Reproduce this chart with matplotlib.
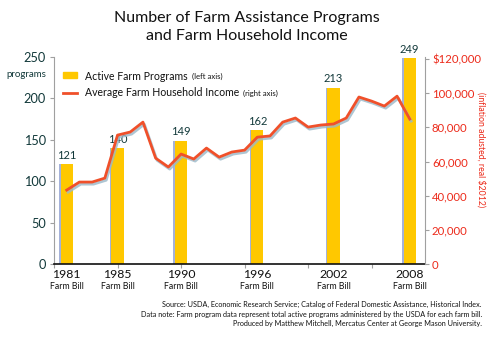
import matplotlib
matplotlib.use("Agg")
import matplotlib.pyplot as plt
import matplotlib.patheffects as pe
from matplotlib.patches import Rectangle
from matplotlib.lines import Line2D

bill_years = [1981, 1985, 1990, 1996, 2002, 2008]
programs = [121, 140, 149, 162, 213, 249]

income_years = list(range(1981, 2009))
income = [43300, 48000, 48000, 50300, 75500, 77300, 83100, 62000, 56800, 64400,
          61500, 67900, 62600, 65600, 66700, 74300, 75000, 83100, 85500, 80200,
          81400, 82000, 85500, 97800, 95400, 92500, 98300, 84900]

left_ticks = [0, 50, 100, 150, 200, 250]
right_ticks = [0, 20000, 40000, 60000, 80000, 100000, 120000]
right_labels = ["0", "20,000", "40,000", "60,000", "80,000", "100,000", "$120,000"]

TEAL = "#12393a"
RED = "#ec2a1a"
LINE = "#f0502a"
YELLOW = "#ffc800"
GRAY = "#a0a0a0"
plt.rcParams["font.family"] = ["Lato", "DejaVu Sans"]

fig = plt.figure(figsize=(5, 3.4), dpi=100)
ax = fig.add_axes([0.108, 0.2235, 0.742, 0.6085])
ax.set_xlim(1980.1, 2009.2)
ax.set_ylim(0, 250)

bars = ax.bar(bill_years, programs, width=0.95, color=YELLOW, zorder=2)
for b in bars:
    b.set_path_effects([pe.SimplePatchShadow(offset=(-1.2, 0), shadow_rgbFace="#8f9fd0", alpha=0.8), pe.Normal()])
for x, v in zip(bill_years, programs):
    ax.text(x, v + 4, str(v), ha="center", va="bottom", color=TEAL, fontsize=8)

ax2 = ax.twinx()
ax2.set_ylim(0, 121170)
ax2.plot(income_years, income, color=LINE, lw=2, zorder=3,
         path_effects=[pe.SimpleLineShadow(offset=(1, -1.5), shadow_color="#9ab8c8", alpha=0.8), pe.Normal()])

for a in (ax, ax2):
    a.spines["top"].set_visible(False)
ax.spines["left"].set_color(GRAY)
ax.spines["right"].set_visible(False)
ax2.spines["left"].set_visible(False)
ax2.spines["bottom"].set_visible(False)
ax2.spines["right"].set_color(GRAY)
ax.spines["bottom"].set_color("#111111")
ax.spines["bottom"].set_linewidth(1.2)

ax.set_yticks(left_ticks)
ax.set_yticklabels([str(t) for t in left_ticks], fontsize=9.2)
ax.tick_params(axis="y", colors=GRAY, labelcolor=TEAL, length=3, pad=3)

ax2.set_yticks(right_ticks)
ax2.set_yticklabels(right_labels, fontsize=8.2)
ax2.tick_params(axis="y", colors=GRAY, labelcolor=RED, length=3, pad=2)

ax.set_xticks([1980, 1985, 1990, 1995, 2000, 2005])
ax.set_xticklabels([])
ax.tick_params(axis="x", colors=GRAY, length=3)

for yr in bill_years:
    ax.text(yr, -13, str(yr), ha="center", va="center", fontsize=8.8, color="#111111")
    ax.text(yr, -27, "Farm Bill", ha="center", va="center", fontsize=6.3, color="#111111")

fig.text(0.012, 0.782, "programs", fontsize=7, color=TEAL, ha="left", va="center")
fig.text(0.962, 1 - 150 / 340, "(inflation adusted, real $2012)", rotation=-90, color=RED,
         fontsize=6.3, ha="center", va="center")

fig.patches.append(Rectangle((63 / 500, 1 - 78 / 340), 14 / 500, 6 / 340, transform=fig.transFigure,
                             color=YELLOW))
fig.lines.append(Line2D([63 / 500, 77 / 500], [1 - 93 / 340] * 2, transform=fig.transFigure,
                        color=LINE, lw=2))
t1 = fig.text(85 / 500, 1 - 76 / 340, "Active Farm Programs", fontsize=7.6, color="#111111", va="center")
t2 = fig.text(85 / 500, 1 - 93 / 340, "Average Farm Household Income", fontsize=7.6, color="#111111", va="center")
fig.canvas.draw()
r = fig.canvas.get_renderer()
for t, s in ((t1, "(left axis)"), (t2, "(right axis)")):
    bb = t.get_window_extent(r)
    fig.text(bb.x1 / 500 + 0.008, t.get_position()[1], s, fontsize=5.6, color="#111111", va="center")

fig.text(0.494, 1 - 27 / 340, "Number of Farm Assistance Programs\nand Farm Household Income",
         ha="center", va="center", fontsize=11.5, color="#111111", linespacing=1.3)

foot = ("Source: USDA, Economic Research Service; Catalog of Federal Domestic Assistance, Historical Index.\n"
        "Data note: Farm program data represent total active programs administered by the USDA for each farm bill.\n"
        "Produced by Matthew Mitchell, Mercatus Center at George Mason University.")
fig.text(0.964, 1 - 314 / 340, foot, ha="right", va="center", fontsize=5.2, color="#111111",
         linespacing=1.45)

fig.savefig("out.png", dpi=100)
